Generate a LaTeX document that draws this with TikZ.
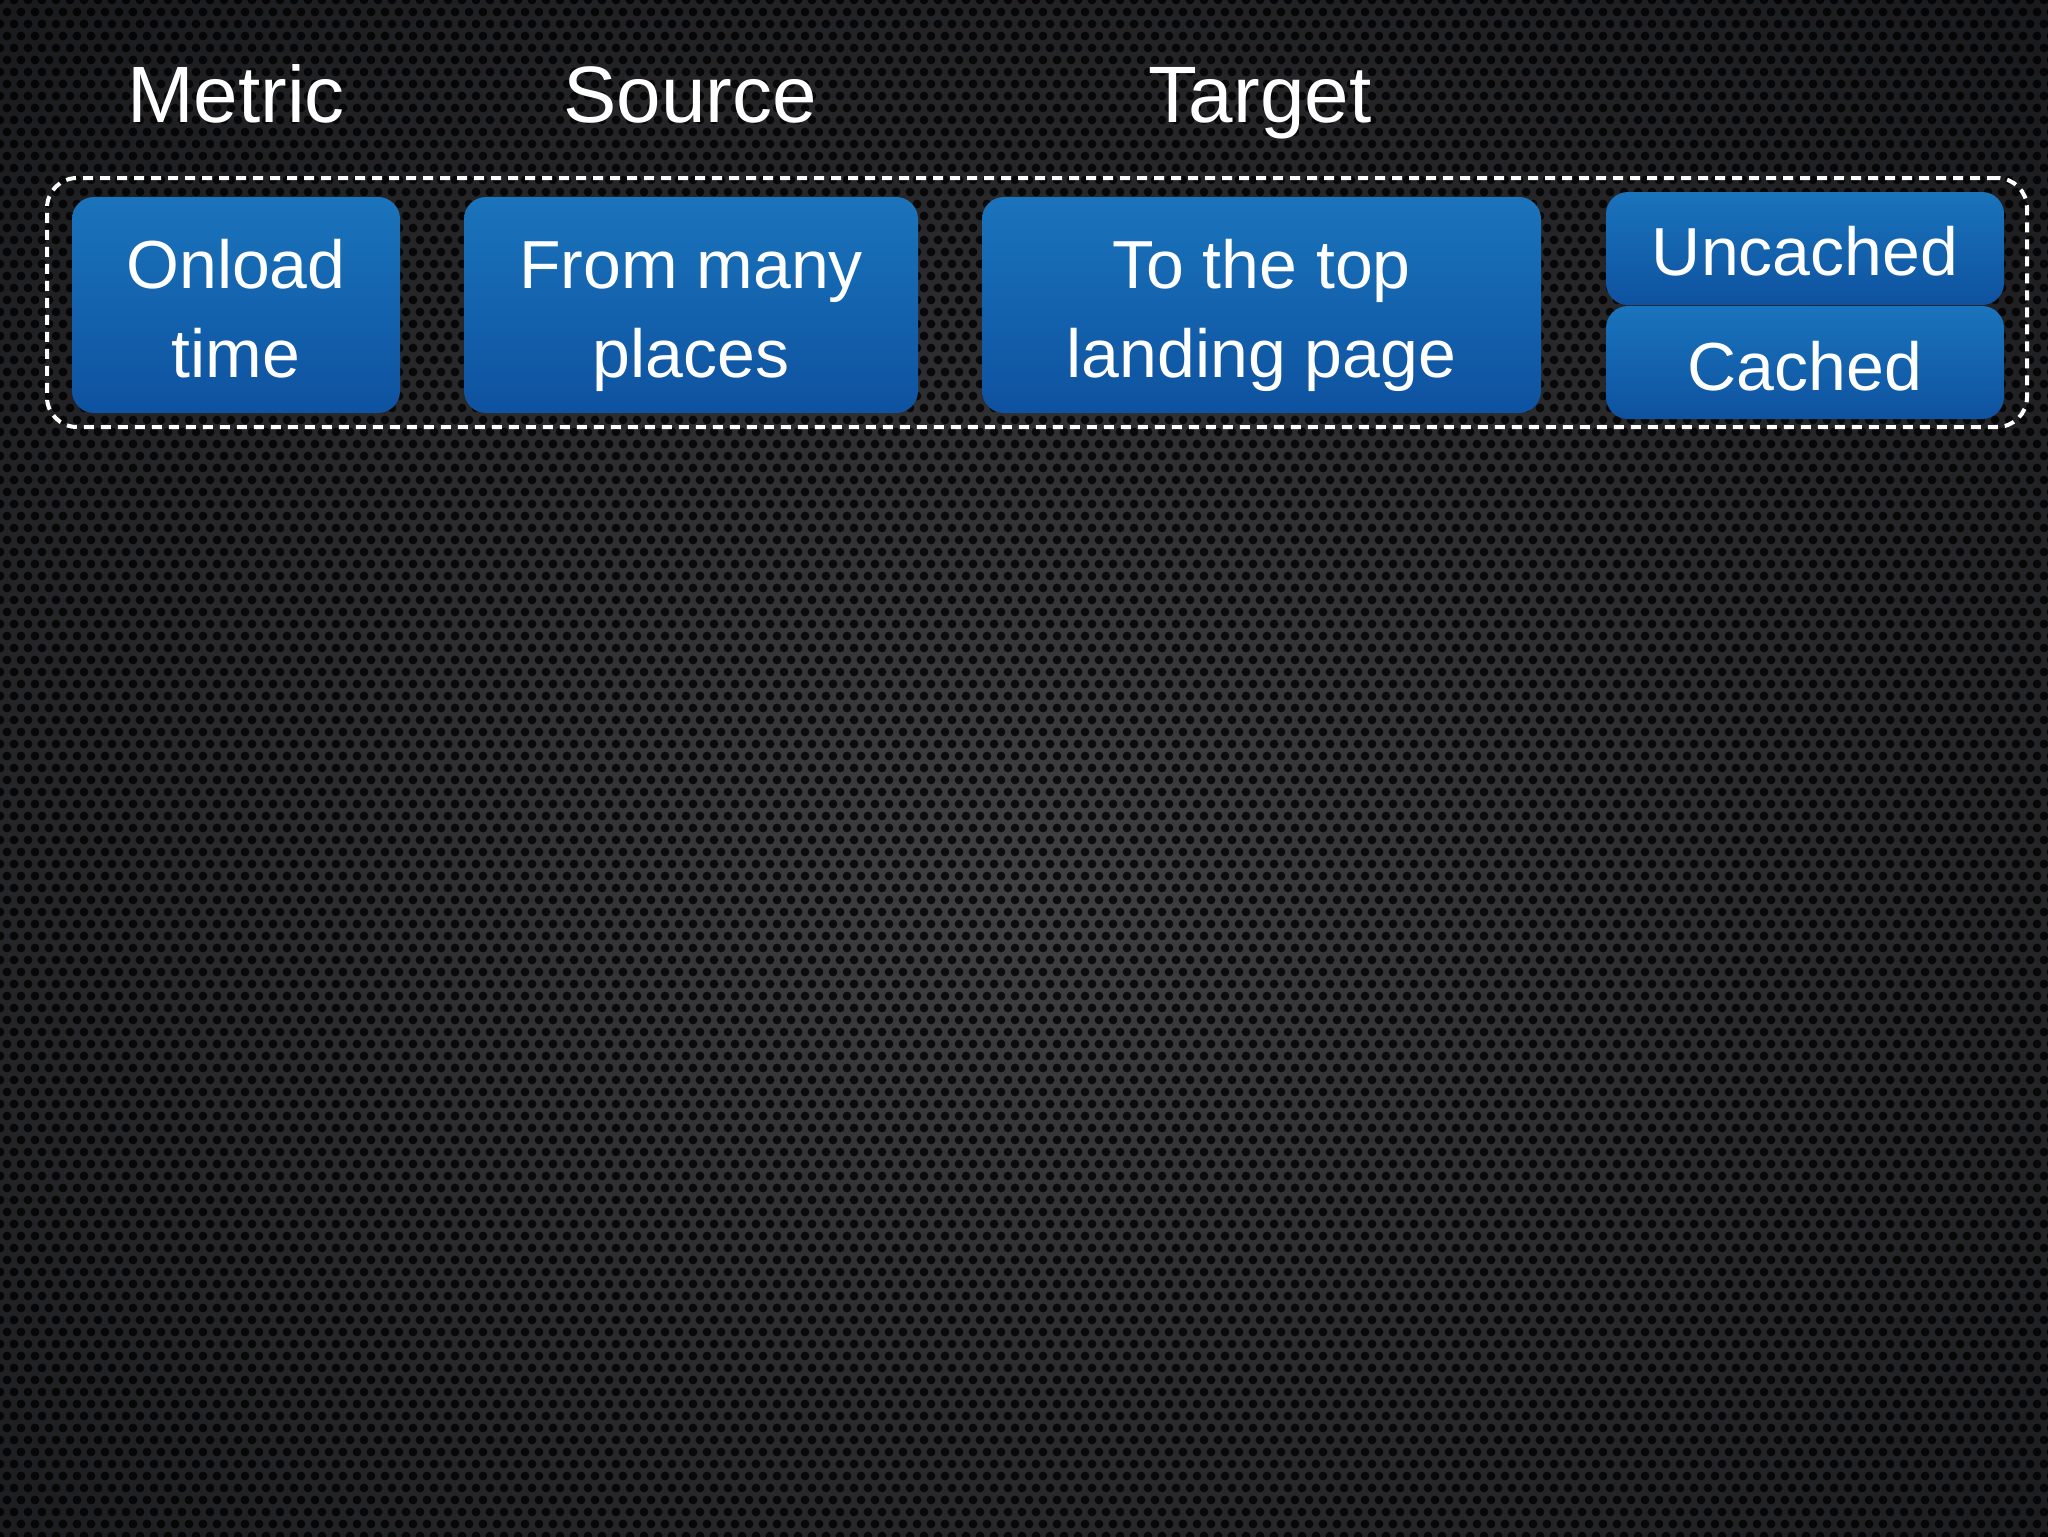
\documentclass[tikz,border=0pt]{standalone}
\usepackage{fontspec}
\setmainfont{Liberation Sans}
\usetikzlibrary{patterns}
\definecolor{bgin}{HTML}{404043}
\definecolor{bgmid}{HTML}{29292C}
\definecolor{bgout}{HTML}{0F1013}
\definecolor{boxtop}{HTML}{1A74BC}
\definecolor{boxbot}{HTML}{0E52A0}
\pgfdeclareradialshading{vign}{\pgfpoint{0bp}{-4bp}}{color(0bp)=(bgin); color(20bp)=(bgmid); color(48bp)=(bgout); color(80bp)=(bgout)}
\pgfdeclarepatternformonly{holes}{\pgfqpoint{-2.3pt}{-2.3pt}}{\pgfqpoint{5.8pt}{8.3pt}}{\pgfqpoint{7pt}{12pt}}{%
  \pgfpathcircle{\pgfqpoint{0pt}{0pt}}{2.2pt}%
  \pgfpathcircle{\pgfqpoint{3.5pt}{6pt}}{2.2pt}%
  \pgfusepath{fill}}
\tikzset{
  hdr/.style={text=white, font=\fontsize{40}{48}\selectfont, anchor=base, inner sep=0pt},
  lbl/.style={text=white, font=\fontsize{34}{44.5}\selectfont, anchor=base, inner sep=0pt},
  bluebox/.style={rounded corners=11pt, top color=boxtop, bottom color=boxbot, draw=none, inner sep=0pt},
  dashframe/.style={draw=white, line width=2pt, dash pattern=on 5pt off 3.5pt, rounded corners=15pt, inner sep=0pt}
}
\begin{document}
\begin{tikzpicture}[x=0.5pt, y=-0.5pt]
\useasboundingbox (0,0) rectangle (2048,1536);
\shade[shading=vign] (0,0) rectangle (2048,1536);
\fill[pattern=holes, pattern color=black, fill opacity=0.8] (0,0) rectangle (2048,1536);
% headers
\node[hdr] (hMetric) at (236,122) {Metric};
\node[hdr] (hSource) at (690,122) {Source};
\node[hdr] (hTarget) at (1260,122) {Target};
% dashed frame
\node[dashframe, minimum width=990pt, minimum height=124.5pt] (frame) at (1037,302.5) {};
% boxes
\node[bluebox, minimum width=164pt, minimum height=108pt] (bOnload) at (236,305) {};
\node[bluebox, minimum width=227pt, minimum height=108pt] (bSource) at (691,305) {};
\node[bluebox, minimum width=279.5pt, minimum height=108pt] (bTarget) at (1261.5,305) {};
\node[bluebox, minimum width=199pt, minimum height=56.5pt] (bUncached) at (1805,248.5) {};
\node[bluebox, minimum width=199pt, minimum height=56.5pt] (bCached) at (1805,362.5) {};
% labels
\node[lbl] (tOnload1) at (236,288) {Onload};
\node[lbl] (tOnload2) at (236,377) {time};
\node[lbl] (tSource1) at (691,288) {From many};
\node[lbl] (tSource2) at (691,377) {places};
\node[lbl] (tTarget1) at (1261.5,288) {To the top};
\node[lbl] (tTarget2) at (1261.5,377) {landing page};
\node[lbl] (tUncached) at (1805,275) {Uncached};
\node[lbl] (tCached) at (1805,390) {Cached};
\end{tikzpicture}
\end{document}
